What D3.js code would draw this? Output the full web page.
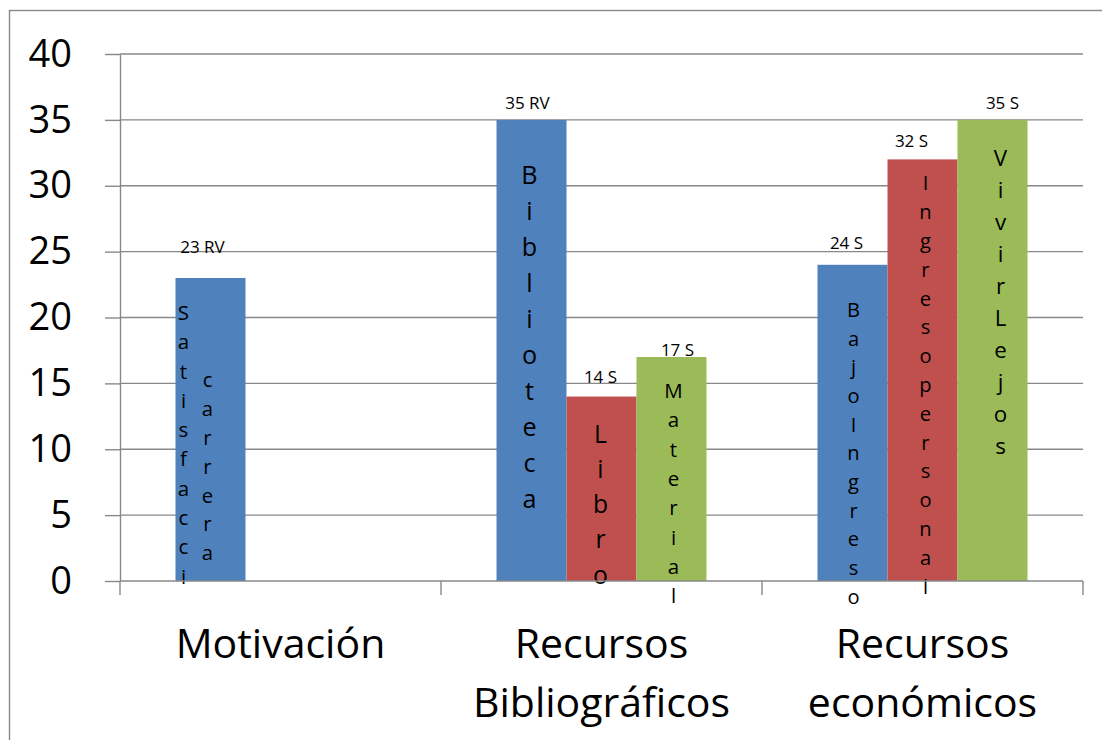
<!DOCTYPE html>
<meta charset="utf-8">
<style>

body {
  margin: 0;
  background-color: white;
}

text {
  font-family: "Open Sans", sans-serif;
  fill: black;
}

.grid line, .axis line, .axis path, .frame {
  fill: none;
  stroke: #888;
  stroke-width: 1.4;
}

</style>
<body>

<script src="https://cdn.jsdelivr.net/npm/d3@7"></script>
<script>

var categories = [["Motivación"], ["Recursos", "Bibliográficos"], ["Recursos", "económicos"]];
var seriesColors = ["#4F81BD", "#C0504D", "#9BBB59"];

// one row per series, one column per category
var seriesValues = [
  [23, 35, 24],
  [null, 14, 32],
  [null, 17, 35]
];
var valueLabels = [
  ["23 RV", "35 RV", "24 S"],
  [null, "14 S", "32 S"],
  [null, "17 S", "35 S"]
];
var innerLabels = [
  [["Satisfacci", "carrera"], ["Biblioteca"], ["BajoIngreso"]],
  [null, ["Libro"], ["Ingresopersonal"]],
  [null, ["Material"], ["VivirLejos"]]
];
var yTicks = [0, 5, 10, 15, 20, 25, 30, 35, 40];

// hand nudges for the labels, keyed "series-category"
var labelLayout = {
  "0-0": {lift: 25, dx: -8, cols: [{dx: -27, top: 42, line: 29.3}, {dx: -3, top: 109, line: 28.9}]},
  "0-1": {lift: 11, dx: -4, cols: [{dx: -2, top: 64, line: 36}]},
  "0-2": {lift: 16, dx: -6, cols: [{dx: 1, top: 52, line: 28.7}]},
  "1-1": {lift: 14, dx: -1, cols: [{dx: -1, top: 46, line: 35.3}]},
  "1-2": {lift: 12, dx: -11, cols: [{dx: 3, top: 31, line: 28.8}]},
  "2-1": {lift: 1, dx: 6, cols: [{dx: 2, top: 41, line: 29.3}]},
  "2-2": {lift: 11, dx: 10, cols: [{dx: 8, top: 46, line: 32}]}
};

var width = 1102,
    height = 740,
    plotLeft = 120,
    plotRight = 1083,
    plotTop = 54,
    plotBottom = 581;

var svg = d3.select("body").append("svg")
    .attr("width", width)
    .attr("height", height);

svg.append("rect")
    .attr("class", "frame")
    .attr("x", 9.5)
    .attr("y", 10.5)
    .attr("width", width)
    .attr("height", height);

var x0 = d3.scaleBand()
    .domain(d3.range(categories.length))
    .range([plotLeft, plotRight]);

var x1 = d3.scaleBand()
    .domain(d3.range(seriesValues.length))
    .range([0, x0.bandwidth()])
    .paddingOuter(0.793);

var y = d3.scaleLinear()
    .domain([0, 40])
    .range([plotBottom, plotTop]);

svg.append("g")
    .attr("class", "grid")
  .selectAll("line")
    .data(yTicks.filter(function(d) { return d > 0; }))
  .enter().append("line")
    .attr("x1", plotLeft)
    .attr("x2", plotRight)
    .attr("y1", function(d) { return y(d); })
    .attr("y2", function(d) { return y(d); });

var yAxis = svg.append("g")
    .attr("class", "axis")
    .attr("transform", "translate(" + plotLeft + ",0)")
    .call(d3.axisLeft(y).tickValues(yTicks).tickSize(15).tickSizeOuter(0).tickPadding(33));

yAxis.selectAll("text")
    .style("font-size", "38px")
    .style("font-family", "'Open Sans', sans-serif")
    .attr("fill", "black");

// flatten to one record per bar
var bars = [];
seriesValues.forEach(function(row, s) {
  row.forEach(function(v, c) {
    if (v == null) return;
    bars.push({s: s, c: c, value: v, label: valueLabels[s][c], inner: innerLabels[s][c],
      layout: labelLayout[s + "-" + c]});
  });
});

var bar = svg.append("g")
  .selectAll("g")
    .data(bars)
  .enter().append("g")
    .attr("transform", function(d) { return "translate(" + (x0(d.c) + x1(d.s)) + ",0)"; });

bar.append("rect")
    .attr("y", function(d) { return y(d.value); })
    .attr("width", x1.bandwidth())
    .attr("height", function(d) { return y(0) - y(d.value); })
    .attr("fill", function(d) { return seriesColors[d.s]; });

// x axis line and category ticks
var xAxis = svg.append("g")
    .attr("class", "axis");

xAxis.append("line")
    .attr("x1", plotLeft)
    .attr("x2", plotRight)
    .attr("y1", plotBottom)
    .attr("y2", plotBottom);

xAxis.selectAll(".tick")
    .data(d3.range(categories.length + 1))
  .enter().append("line")
    .attr("class", "tick")
    .attr("x1", function(d) { return plotLeft + d * x0.step(); })
    .attr("x2", function(d) { return plotLeft + d * x0.step(); })
    .attr("y1", plotBottom)
    .attr("y2", plotBottom + 14);

svg.append("g")
  .selectAll("text")
    .data(categories)
  .enter().append("text")
    .attr("text-anchor", "middle")
    .style("font-size", "41px")
    .attr("transform", function(d, i) { return "translate(" + (x0(i) + x0.bandwidth() / 2) + ",658)"; })
  .selectAll("tspan")
    .data(function(d) { return d; })
  .enter().append("tspan")
    .attr("x", 0)
    .attr("y", function(d, i) { return i * 59; })
    .text(function(d) { return d; });

bar.append("text")
    .attr("text-anchor", "middle")
    .style("font-size", "17px")
    .attr("x", function(d) { return x1.bandwidth() / 2 + d.layout.dx; })
    .attr("y", function(d) { return y(d.value) - d.layout.lift; })
    .text(function(d) { return d.label; });

// stacked letters inside the bars
bar.each(function(d) {
  var g = d3.select(this);
  d.inner.forEach(function(word, k) {
    var col = d.layout.cols[k];
    g.append("g")
      .selectAll("text")
        .data(word.split(""))
      .enter().append("text")
        .attr("text-anchor", "middle")
        .style("font-size", (col.line * 0.7) + "px")
        .attr("x", x1.bandwidth() / 2 + col.dx)
        .attr("y", function(ch, i) { return y(d.value) + col.top + i * col.line; })
        .text(function(ch) { return ch; });
  });
});

</script>
